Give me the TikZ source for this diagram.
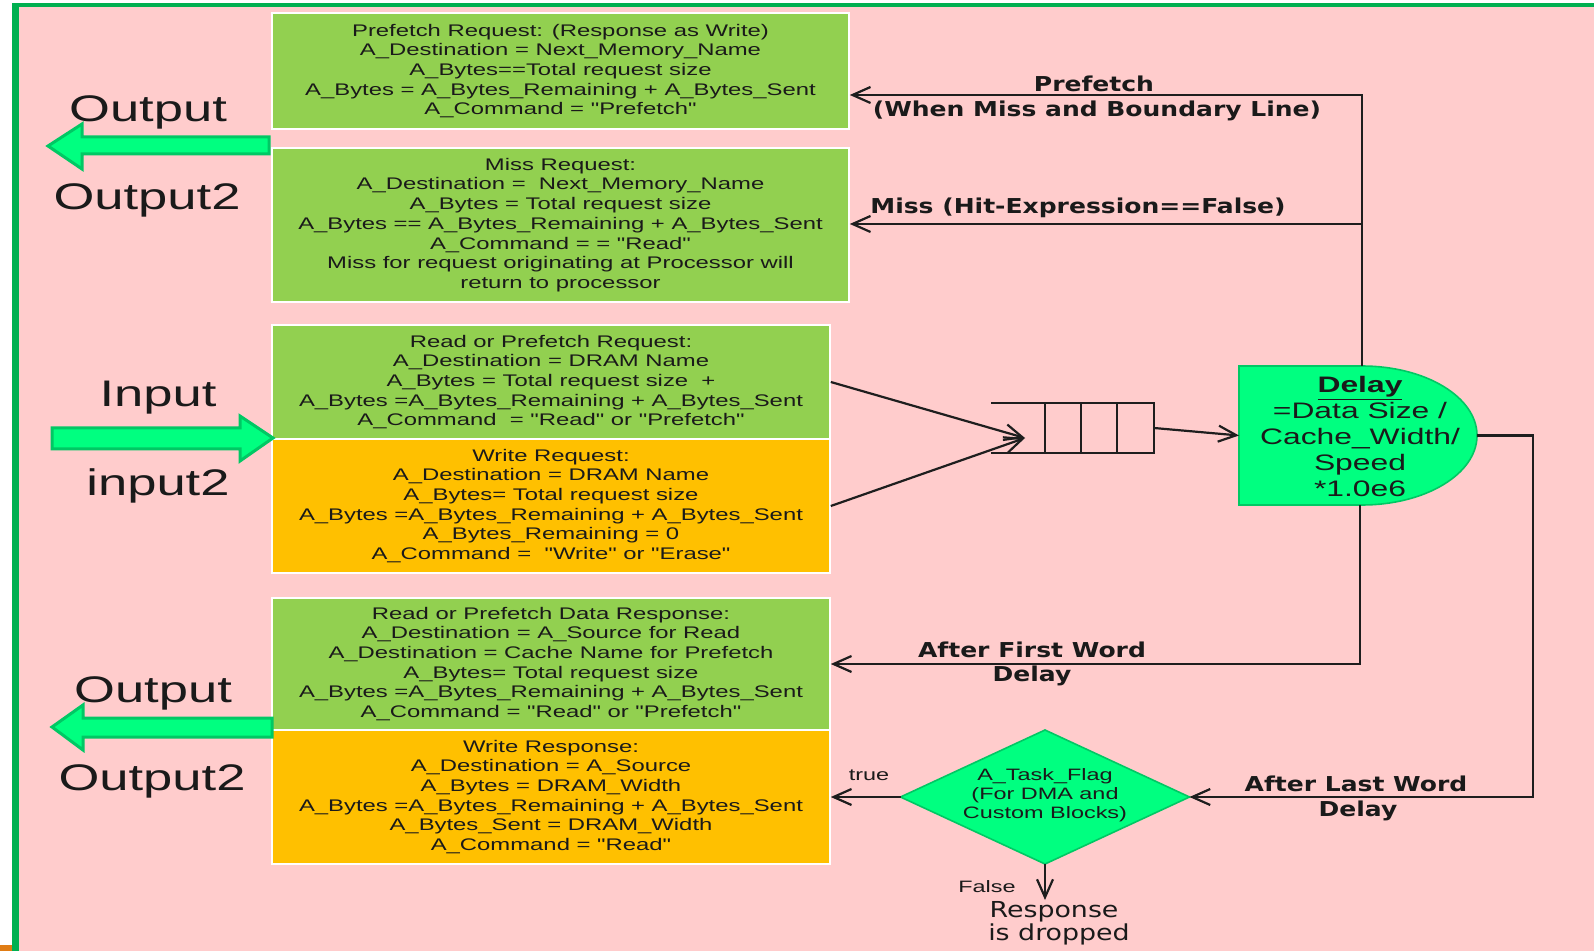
\documentclass[tikz,border=0pt]{standalone}
\usepackage{fontspec}
\setmainfont{Liberation Sans}
\newfontfamily\boxfont[FakeStretch=1.42]{Liberation Sans}
\newfontfamily\lblfont[FakeStretch=1.22]{DejaVu Sans}
\newfontfamily\lblbold[FakeStretch=1.22]{DejaVu Sans Bold}
\usetikzlibrary{arrows.meta}

\definecolor{pinkbg}{HTML}{FFCCCC}
\definecolor{bordergreen}{HTML}{00B050}
\definecolor{boxgreen}{HTML}{92D050}
\definecolor{boxorange}{HTML}{FFC000}
\definecolor{spring}{HTML}{00FF80}
\definecolor{springdark}{HTML}{00C864}
\definecolor{linecol}{HTML}{1E1E1E}
\definecolor{txt}{HTML}{1A1A1A}
\definecolor{cornermark}{HTML}{E07C14}

\begin{document}
\begin{tikzpicture}[x=0.5pt,y=-0.5pt,
  infobox/.style={draw=white, line width=0.8pt, inner sep=0pt, align=center,
    text=txt, font=\boxfont\fontsize{8.4pt}{9.85pt}\selectfont},
  greenbox/.style={infobox, fill=boxgreen},
  orangebox/.style={infobox, fill=boxorange},
  conn/.style={draw=linecol, line width=1.1pt,
    -{Straight Barb[length=9pt,width=8pt]}},
  qline/.style={draw=linecol, line width=1.1pt},
  bigarrow/.style={fill=spring, draw=springdark, line width=1.5pt, line join=miter},
  biglabel/.style={anchor=base, text=txt, font=\boxfont\fontsize{18.5pt}{22pt}\selectfont},
  flowlabel/.style={anchor=base, text=txt, font=\lblbold\fontsize{10.25pt}{12pt}\selectfont},
  smalllabel/.style={anchor=base, text=txt, font=\boxfont\fontsize{8.25pt}{10pt}\selectfont},
  droplabel/.style={anchor=base, text=txt, font=\lblfont\fontsize{11pt}{13pt}\selectfont},
  hidden/.style={inner sep=0pt, outer sep=0pt}
]
% canvas and frame
\useasboundingbox (0,0) rectangle (1594,951);
\fill[white] (0,0) rectangle (1594,951);
\fill[pinkbg] (19,7) rectangle (1594,951);
\fill[bordergreen] (12,3) rectangle (1594,7);
\fill[bordergreen] (12,3) rectangle (19,951);
\fill[cornermark] (0,945) rectangle (12,951);

% request / response boxes
\node[greenbox, minimum width=288.5pt, minimum height=58pt] (pref) at (560.5,71)
  {Prefetch Request: (Response as Write)\\
   A\_Destination = Next\_Memory\_Name\\
   A\_Bytes==Total request size\\
   A\_Bytes = A\_Bytes\_Remaining + A\_Bytes\_Sent\\
   A\_Command = "Prefetch"};
\node[greenbox, minimum width=288.5pt, minimum height=77pt] (miss) at (560.5,225)
  {Miss Request:\\
   A\_Destination =\ \ Next\_Memory\_Name\\
   A\_Bytes = Total request size\\
   A\_Bytes == A\_Bytes\_Remaining + A\_Bytes\_Sent\\
   A\_Command = = "Read"\\
   Miss for request originating at Processor will\\
   return to processor};
\node[greenbox, minimum width=279pt, minimum height=57pt] (rreq) at (551,382)
  {Read or Prefetch Request:\\
   A\_Destination = DRAM Name\\
   A\_Bytes = Total request size\ \ +\\
   A\_Bytes =A\_Bytes\_Remaining + A\_Bytes\_Sent\\
   A\_Command\ \ = "Read" or "Prefetch"};
\node[orangebox, minimum width=279pt, minimum height=67pt] (wreq) at (551,506)
  {Write Request:\\
   A\_Destination = DRAM Name\\
   A\_Bytes= Total request size\\
   A\_Bytes =A\_Bytes\_Remaining + A\_Bytes\_Sent\\
   A\_Bytes\_Remaining = 0\\
   A\_Command =\ \ "Write" or "Erase"};
\node[greenbox, minimum width=279pt, minimum height=66pt] (rresp) at (551,664)
  {Read or Prefetch Data Response:\\
   A\_Destination = A\_Source for Read\\
   A\_Destination = Cache Name for Prefetch\\
   A\_Bytes= Total request size\\
   A\_Bytes =A\_Bytes\_Remaining + A\_Bytes\_Sent\\
   A\_Command = "Read" or "Prefetch"};
\node[orangebox, minimum width=279pt, minimum height=67pt] (wresp) at (551,797)
  {Write Response:\\
   A\_Destination = A\_Source\\
   A\_Bytes = DRAM\_Width\\
   A\_Bytes =A\_Bytes\_Remaining + A\_Bytes\_Sent\\
   A\_Bytes\_Sent = DRAM\_Width\\
   A\_Command = "Read"};

% port arrows and their labels
\draw[bigarrow] (269,137) -- (82,137) -- (82,124) -- (48,146) -- (82,169)
  -- (82,154) -- (269,154) -- cycle;
\draw[bigarrow] (52,428) -- (240,428) -- (240,416) -- (273,438) -- (240,461)
  -- (240,449) -- (52,449) -- cycle;
\draw[bigarrow] (272,718) -- (83,718) -- (83,705) -- (52,727) -- (83,750)
  -- (83,737) -- (272,737) -- cycle;
\node[biglabel] (outA) at (148,122) {Output};
\node[biglabel] (outA2) at (147,210) {Output2};
\node[biglabel] (inA) at (158,407) {Input};
\node[biglabel] (inA2) at (158,495) {input2};
\node[biglabel] (outB) at (153,702) {Output};
\node[biglabel] (outB2) at (152,790) {Output2};

% queue
\node[hidden, minimum width=81.5pt, minimum height=25pt] (queue) at (1072.5,428) {};
\draw[qline] (queue.north west) -- (queue.north east) -- (queue.south east)
  -- (queue.south west);
\foreach \qx in {1045,1081,1117} \draw[qline] (\qx,403) -- (\qx,453);
\coordinate (qin) at (1025,438);

% delay block
\node[hidden, minimum width=119pt, minimum height=69.5pt] (delay) at (1358,435.5) {};
\draw[fill=spring, draw=springdark, line width=0.8pt]
  (delay.north west) -- ++(61.5pt,0)
  arc[start angle=90, end angle=-90, x radius=57.5pt, y radius=34.75pt]
  -- (delay.south west) -- cycle;
\node[align=center, text=txt, font=\boxfont\fontsize{11.2pt}{13pt}\selectfont]
  (delaytxt) at (1360,436)
  {\underline{\bfseries Delay}\\=Data Size /\\Cache\_Width/\\Speed\\*1.0e6};

% task flag decision
\node[hidden, minimum width=144.5pt, minimum height=67pt] (flag) at (1045,797) {};
\draw[fill=spring, draw=springdark, line width=0.8pt]
  (flag.north) -- (flag.east) -- (flag.south) -- (flag.west) -- cycle;
\node[align=center, text=txt, font=\boxfont\fontsize{8.25pt}{9.6pt}\selectfont]
  (flagtxt) at (1045,795) {A\_Task\_Flag\\(For DMA and\\Custom Blocks)};
\coordinate (drop) at (1045,900);

% connectors
\draw[conn] (rreq.east) -- (qin);
\draw[conn] (wreq.east) -- (qin);
\draw[conn] (queue.east) -- (delay.west);
\coordinate (pfk) at (1362,95);
\coordinate (mj) at (1362,224);
\draw[conn] ([xshift=2pt]delay.north) -- (pfk) -- (pfk -| pref.east);
\draw[conn] (mj) -- (mj -| miss.east);
\draw[conn] ([xshift=1pt]delay.south) |- (rresp.east);
\draw[conn] (delay.east) -- ++(56,0) |- (flag.east);
\draw[conn] (flag.west) -- (wresp.east);
\draw[conn] (flag.south) -- (drop);

% connector labels
\node[flowlabel] (lpf) at (1094,92) {Prefetch};
\node[flowlabel] (lpf2) at (1097,117) {(When Miss and Boundary Line)};
\node[flowlabel] (lmiss) at (1078,214) {Miss (Hit-Expression==False)};
\node[flowlabel] (lfirst) at (1032,657) {After First Word};
\node[flowlabel] (lfirst2) at (1032,681) {Delay};
\node[flowlabel] (llast) at (1356,791) {After Last Word};
\node[flowlabel] (llast2) at (1358,816) {Delay};
\node[smalllabel] (ltrue) at (869,780) {true};
\node[smalllabel] (lfalse) at (987,892) {False};
\node[droplabel] (ldrop) at (1054,917) {Response};
\node[droplabel] (ldrop2) at (1059,940) {is dropped};
\end{tikzpicture}
\end{document}
